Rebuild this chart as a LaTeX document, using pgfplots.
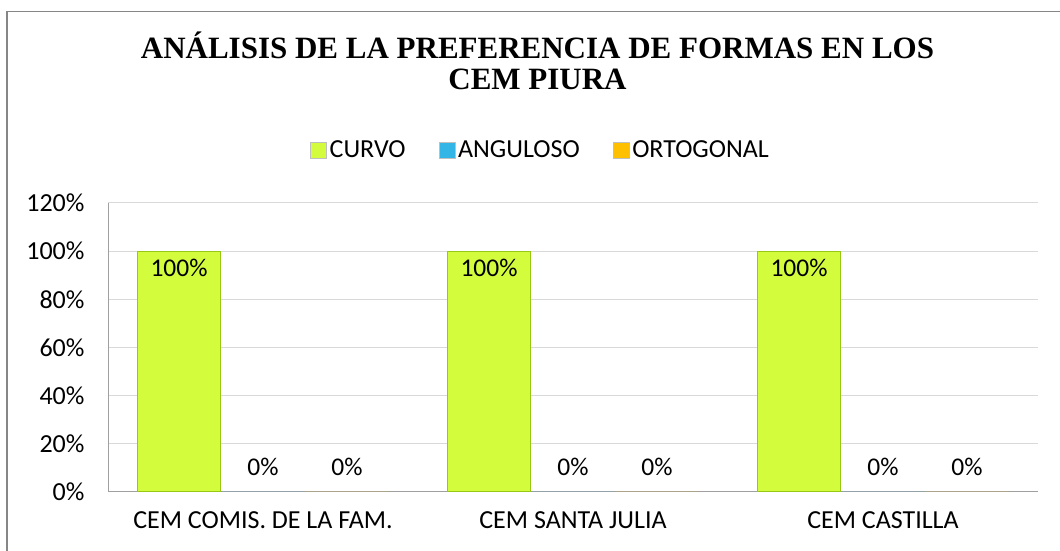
\documentclass[border=0pt]{standalone}
\usepackage{pgfplots}
\pgfplotsset{compat=1.18}
\usepackage{fontspec}
\setmainfont{Carlito}
\newfontfamily\titlefont{Liberation Serif}

\definecolor{curvo}{RGB}{210,252,60}
\definecolor{curvoedge}{RGB}{150,200,20}
\definecolor{angul}{RGB}{51,181,229}
\definecolor{ortog}{RGB}{255,192,0}
\definecolor{gridgray}{RGB}{217,217,217}
\definecolor{axisgray}{RGB}{160,160,160}
\definecolor{framegray}{RGB}{134,134,134}

\begin{document}
\begin{tikzpicture}[x=1pt,y=1pt]
% outer chart frame (cut off at right and bottom, like the reference)
\draw[framegray, line width=1.5pt] (7,-50) -- (7,539.5) -- (1100,539.5);

% title, two lines in one node
\node[anchor=north, align=center, inner sep=0pt,
      font=\titlefont\bfseries\fontsize{31}{30.5}\selectfont]
  at (537.5,519) {ANÁLISIS DE LA PREFERENCIA DE FORMAS EN LOS\\CEM PIURA};

\begin{axis}[
    at={(108pt,59pt)}, anchor=south west,
    scale only axis,
    width=930pt, height=289pt,
    ybar=1pt,
    bar width=83pt,
    xmin=-0.5, xmax=2.5,
    ymin=0, ymax=120,
    xtick={0,1,2},
    xticklabels={CEM COMIS. DE LA FAM., CEM SANTA JULIA, CEM CASTILLA},
    ytick={0,20,...,120},
    yticklabel={\pgfmathprintnumber{\tick}\%},
    /pgf/number format/assume math mode=true,
    tick label style={font=\fontsize{26}{30}\selectfont},
    x tick label style={yshift=-16pt},
    y tick label style={xshift=-20pt},
    major tick length=0pt,
    axis x line*=bottom,
    axis y line*=left,
    axis line style={axisgray, line width=1pt, -},
    ymajorgrids,
    grid style={gridgray, line width=1pt},
    legend columns=-1,
    legend style={
        at={(0.4656,1.183)}, anchor=center,
        draw=none, fill=none,
        font=\fontsize{26}{30}\selectfont,
        /tikz/every even column/.append style={column sep=30pt},
        nodes={inner sep=3pt},
    },
    legend image code/.code={
        \draw[#1, draw=black!25, line width=0.5pt] (0pt,-8pt) rectangle (16pt,8pt);
    },
    nodes near coords={\pgfmathprintnumber{\pgfplotspointmeta}\%},
    nodes near coords style={font=\fontsize{25.5}{30}\selectfont},
]
\addplot[fill=curvo, draw=curvoedge, line width=1pt,
    every node near coord/.append style={anchor=north, yshift=-4pt}]
  coordinates {(0,100) (1,100) (2,100)};
\addplot[fill=angul, draw=none,
    every node near coord/.append style={anchor=south, yshift=13pt}]
  coordinates {(0,0) (1,0) (2,0)};
\addplot[fill=ortog, draw=none,
    every node near coord/.append style={anchor=south, yshift=13pt}]
  coordinates {(0,0) (1,0) (2,0)};
\legend{CURVO, ANGULOSO, ORTOGONAL}
\end{axis}

\pgfresetboundingbox
\path[use as bounding box] (0,0) rectangle (1060,551);
\end{tikzpicture}
\end{document}
